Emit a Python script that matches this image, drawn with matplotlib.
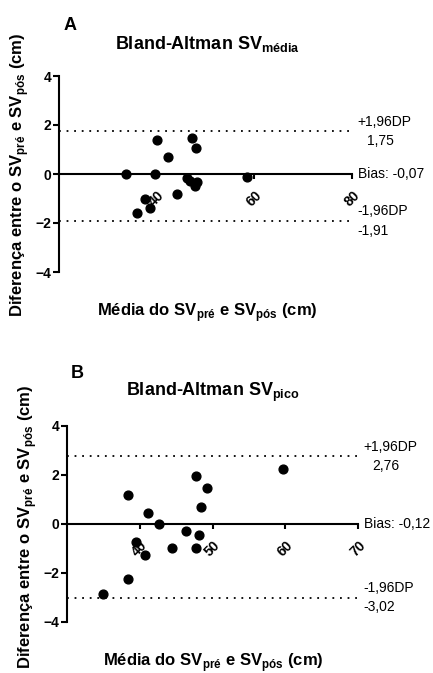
import matplotlib
matplotlib.use("Agg")
import matplotlib.pyplot as plt

plt.rcParams['font.family'] = ['Liberation Sans', 'DejaVu Sans']
plt.rcParams['mathtext.fontset'] = 'custom'
plt.rcParams['mathtext.rm'] = 'Liberation Sans'
plt.rcParams['mathtext.bf'] = 'Liberation Sans:bold'

# Panel A: SV media
media_a = [33.7, 39.6, 40.1, 42.4, 47.3, 48.1, 46.3, 46.8, 47.9, 48.3, 44.1, 37.6, 38.6, 35.9, 58.5]
dif_a = [0.0, 0.02, 1.37, 0.69, 1.48, 1.07, -0.15, -0.28, -0.48, -0.33, -0.83, -1.03, -1.40, -1.58, -0.12]
bias_a, lo_a, hi_a = -0.07, -1.91, 1.75
xticks_a = [40, 60, 80]
xlim_a = (20, 80)

# Panel B: SV pico
media_b = [35.0, 38.4, 38.4, 39.5, 40.7, 41.1, 42.7, 44.5, 46.3, 47.7, 47.7, 48.2, 48.4, 49.2, 59.7]
dif_b = [-2.86, 1.16, -2.27, -0.75, -1.29, 0.45, 0.0, -0.98, -0.30, 1.93, -0.98, -0.48, 0.68, 1.47, 2.24]
bias_b, lo_b, hi_b = -0.12, -3.02, 2.76
xticks_b = [40, 50, 60, 70]
xlim_b = (30, 70)

yticks = [-4, -2, 0, 2, 4]

W, H = 433, 673
fig = plt.figure(figsize=(W / 100, H / 100), dpi=100)


def px(x, y):
    return x / W, 1 - y / H


def panel(rect, media, dif, bias, lo, hi, xticks, xlim, sub):
    ax = fig.add_axes(rect)
    ax.scatter(media, dif, s=40, color='black', zorder=3, clip_on=False)
    ax.set_xlim(*xlim)
    ax.set_ylim(-4, 4)
    ax.set_xticks(xticks)
    ax.set_yticks(yticks)
    for sp in ['top', 'right']:
        ax.spines[sp].set_visible(False)
    ax.spines['bottom'].set_position(('data', 0))
    ax.spines['bottom'].set_linewidth(1.5)
    ax.spines['left'].set_linewidth(1.5)
    ax.tick_params(axis='y', length=4.5, width=1.5, pad=1, labelsize=10)
    ax.tick_params(axis='x', length=3.5, width=1.5, pad=7, labelsize=10)
    for lbl in ax.get_xticklabels():
        lbl.set_fontweight('bold')
        lbl.set_rotation(45)
        lbl.set_ha('center')
    for lbl in ax.get_yticklabels():
        lbl.set_fontweight('bold')
    for v in (lo, hi):
        ax.plot(xlim, [v, v], color='black', lw=1.3, ls=(0, (1, 3.2)), clip_on=False)

    def note(y, txt, dx, dy):
        ax.annotate(txt, (xlim[1], y), xytext=(dx, dy), textcoords='offset points',
                    ha='left', va='center', fontsize=10, annotation_clip=False)

    note(hi, '+1,96DP', 4, 6.5)
    note(hi, ('%.2f' % hi).replace('.', ','), 10.5, -6.8)
    note(0, 'Bias: ' + ('%.2f' % bias).replace('.', ','), 4, 0)
    note(lo, '-1,96DP', 4, 6.8)
    note(lo, ('%.2f' % lo).replace('.', ','), 4, -7)
    return ax


xl = r'Média do SV$_{\mathbf{pré}}$ e SV$_{\mathbf{pós}}$ (cm)'
yl = r'Diferença entre o SV$_{\mathbf{pré}}$ e SV$_{\mathbf{pós}}$ (cm)'

# A
l, b = px(59, 272)
panel([l, b, (352 - 59) / W, 196 / H], media_a, dif_a, bias_a, lo_a, hi_a, xticks_a, xlim_a, 'média')
fig.text(*px(207, 44), r'Bland-Altman SV$_{\mathbf{média}}$', ha='center', va='center',
         fontsize=13, fontweight='bold')
fig.text(*px(70, 25), 'A', ha='center', va='center', fontsize=13, fontweight='bold')
fig.text(*px(207, 313), xl, ha='center', va='center', fontsize=12, fontweight='bold')
fig.text(*px(20, 175), yl, ha='center', va='center', fontsize=12, fontweight='bold', rotation=90)

# B
l, b = px(67, 621.7)
panel([l, b, (358 - 67) / W, 196 / H], media_b, dif_b, bias_b, lo_b, hi_b, xticks_b, xlim_b, 'pico')
fig.text(*px(213, 392), r'Bland-Altman SV$_{\mathbf{pico}}$', ha='center', va='center',
         fontsize=13, fontweight='bold')
fig.text(*px(77, 373), 'B', ha='center', va='center', fontsize=13, fontweight='bold')
fig.text(*px(213, 663), xl, ha='center', va='center', fontsize=12, fontweight='bold')
fig.text(*px(28, 527), yl, ha='center', va='center', fontsize=12, fontweight='bold', rotation=90)

fig.savefig('out.png', dpi=100)
